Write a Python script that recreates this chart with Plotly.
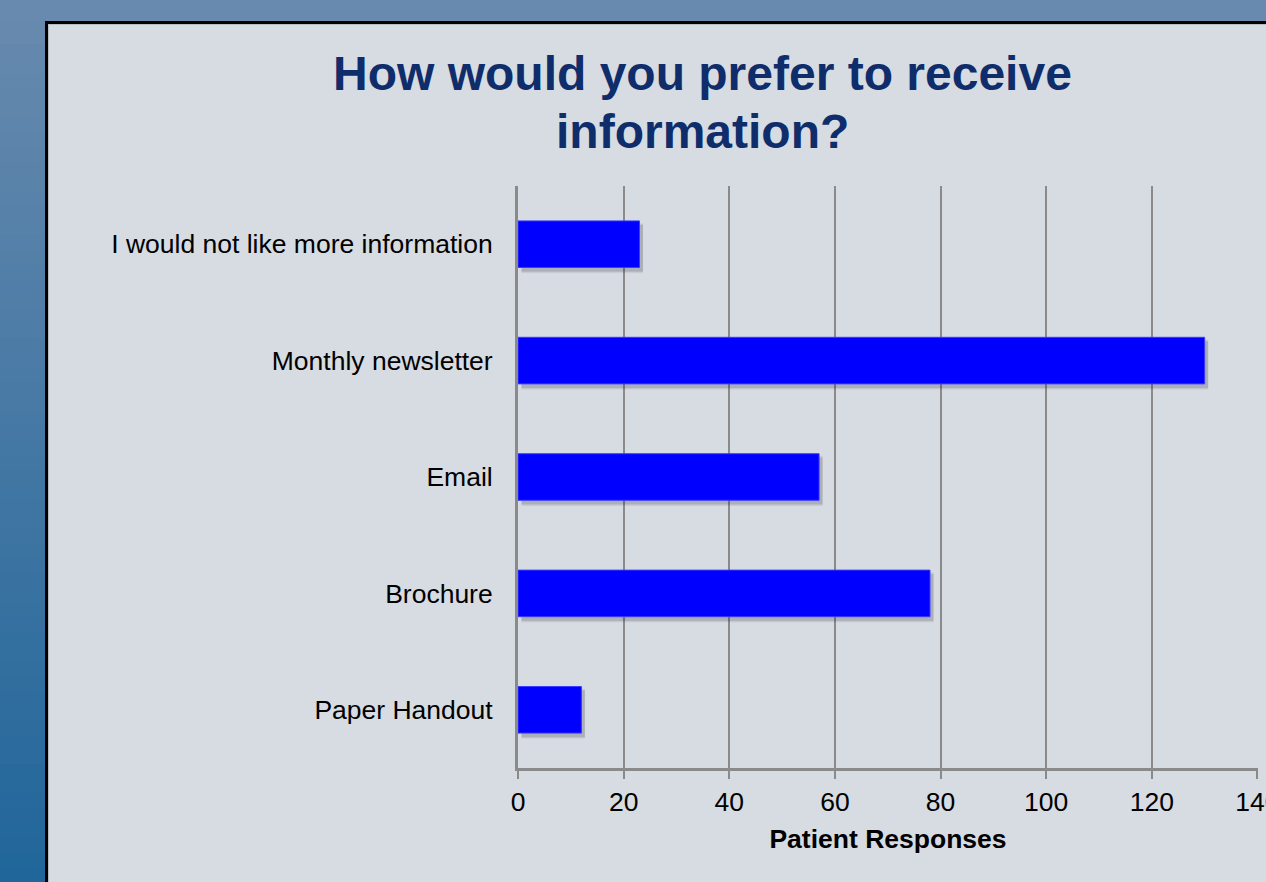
import plotly.graph_objects as go

# Survey results
categories = ["Paper Handout", "Brochure", "Email", "Monthly newsletter",
              "I would not like more information"]
responses = [12, 78, 57, 130, 23]
x_ticks = [0, 20, 40, 60, 80, 100, 120, 140]
title_lines = ["How would you prefer to receive", "information?"]

W, H = 1266, 882
L, R, T, B = 518, 8, 186, 114
plot_w = W - L - R
plot_h = H - T - B


def px_x(p):
    return (p - L) / plot_w


def px_y(p):
    return 1 - (p - T) / plot_h


fig = go.Figure()

# invisible carrier on the main axes (keeps category ticks)
fig.add_trace(go.Bar(
    x=responses, y=categories, orientation="h",
    marker=dict(color="rgba(0,0,0,0)", line=dict(width=0)),
    width=0.4, hoverinfo="skip", showlegend=False,
))

# soft drop shadow (same data on a slightly shifted overlay axis)
for alpha, wdt in [(0.06, 0.43), (0.08, 0.415), (0.12, 0.40)]:
    fig.add_trace(go.Bar(
        x=responses, y=categories, orientation="h",
        marker=dict(color="rgba(40,40,55,%.2f)" % alpha, line=dict(width=0)),
        width=wdt, xaxis="x2", yaxis="y2", hoverinfo="skip", showlegend=False,
    ))

# the bars themselves, drawn on top
fig.add_trace(go.Bar(
    x=responses, y=categories, orientation="h",
    marker=dict(color="#0000ff", line=dict(color="#3a3aff", width=1)),
    width=0.4, xaxis="x3", yaxis="y3", showlegend=False,
))

shapes = []
# blue gradient frame on the left and top
top_rgb = (0x68, 0x8a, 0xae)
bot_rgb = (0x21, 0x66, 0x9a)
n = 60
for i in range(n):
    f = i / (n - 1)
    c = tuple(round(top_rgb[k] + (bot_rgb[k] - top_rgb[k]) * f) for k in range(3))
    y0 = i * H / n
    y1 = (i + 1) * H / n + 1
    shapes.append(dict(type="rect", xref="paper", yref="paper",
                       x0=px_x(0), x1=px_x(46), y0=px_y(y1), y1=px_y(y0),
                       fillcolor="rgb(%d,%d,%d)" % c, line=dict(width=0), layer="below"))
shapes.append(dict(type="rect", xref="paper", yref="paper",
                   x0=px_x(0), x1=px_x(W + 5), y0=px_y(22), y1=px_y(-2),
                   fillcolor="rgb(%d,%d,%d)" % top_rgb, line=dict(width=0), layer="below"))
# dark border of the chart panel
shapes.append(dict(type="rect", xref="paper", yref="paper",
                   x0=px_x(46.5), x1=px_x(W + 10), y0=px_y(H + 10), y1=px_y(22.5),
                   fillcolor="rgba(0,0,0,0)", line=dict(color="#000000", width=3), layer="below"))
shapes.append(dict(type="rect", xref="paper", yref="paper",
                   x0=px_x(48.5), x1=px_x(W + 10), y0=px_y(H + 10), y1=px_y(24.5),
                   fillcolor="rgba(0,0,0,0)", line=dict(color="#b9bcc2", width=1), layer="below"))

# two-line bold title
annotations = []
for line, cy in zip(title_lines, [73, 132]):
    annotations.append(dict(
        text="<b>%s</b>" % line, xref="paper", yref="paper",
        x=px_x(702), y=px_y(cy), xanchor="center", yanchor="middle",
        showarrow=False,
        font=dict(size=48, color="#0f2d6b", family="Liberation Sans, Arial, sans-serif"),
    ))

x_range = [0, 140.1]
shift_x = 3.5 * (x_range[1] - x_range[0]) / plot_w
shift_y = 4 * 5 / plot_h
cat_axis = dict(categoryorder="array", categoryarray=categories)

fig.update_layout(
    width=W, height=H,
    margin=dict(l=L, r=R, t=T, b=B, autoexpand=False),
    paper_bgcolor="#d7dbe2",
    plot_bgcolor="#d7dbe2",
    font=dict(family="Liberation Sans, Arial, sans-serif", color="#000000", size=26.5),
    xaxis=dict(
        range=x_range, tickvals=x_ticks, ticktext=[str(v) for v in x_ticks],
        showgrid=True, gridcolor="#8a8a8a", gridwidth=2,
        zeroline=False, showline=True, linecolor="#8a8a8a", linewidth=3,
        ticks="outside", ticklen=8, tickwidth=2, tickcolor="#8a8a8a",
        tickfont=dict(size=26.5, color="#000000"),
        ticklabeloverflow="allow", automargin=False,
        title=dict(text="<b>Patient Responses</b>", font=dict(size=26.5), standoff=14),
        fixedrange=True,
    ),
    yaxis=dict(
        **cat_axis,
        range=[-0.5, 4.5],
        showgrid=False, zeroline=False,
        showline=True, linecolor="#8a8a8a", linewidth=3,
        ticks="", ticklabelstandoff=17, automargin=False,
        tickfont=dict(size=26.5, color="#000000"),
        fixedrange=True,
    ),
    xaxis2=dict(range=[x_range[0] - shift_x, x_range[1] - shift_x], overlaying="x", visible=False),
    yaxis2=dict(**cat_axis, range=[-0.5 + shift_y, 4.5 + shift_y], overlaying="y", visible=False),
    xaxis3=dict(range=x_range, overlaying="x", visible=False),
    yaxis3=dict(**cat_axis, range=[-0.5, 4.5], overlaying="y", visible=False),
    barmode="overlay",
    bargap=0.6,
    shapes=shapes,
    annotations=annotations,
)

fig.write_html("out.html")
